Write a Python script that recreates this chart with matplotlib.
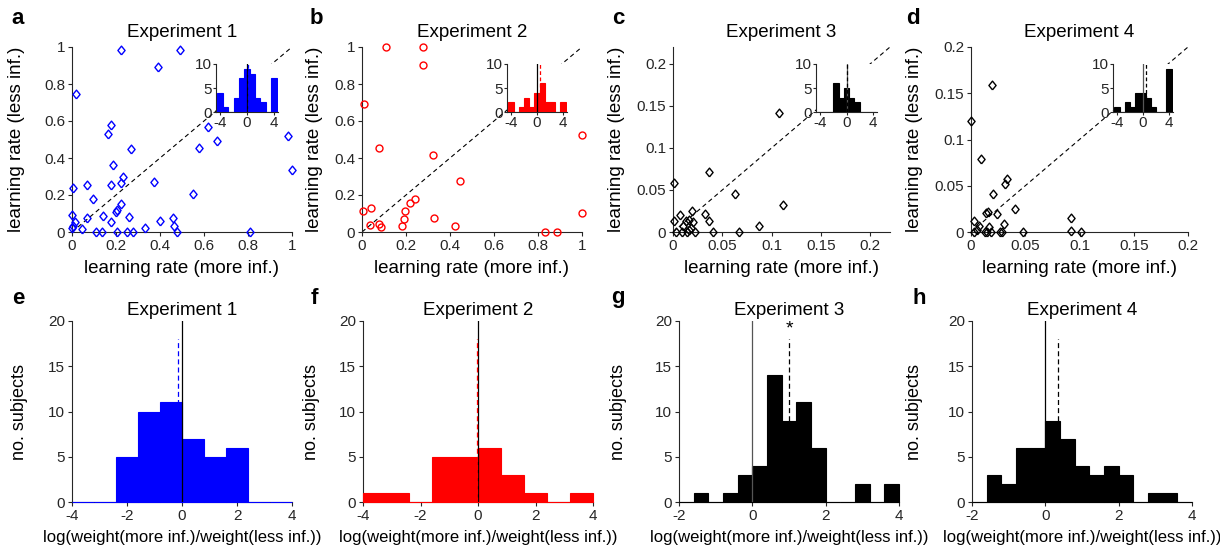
import numpy as np
import matplotlib
matplotlib.use('Agg')
import matplotlib.pyplot as plt

plt.rcParams['font.family'] = ['Liberation Sans', 'DejaVu Sans']
plt.rcParams['axes.unicode_minus'] = False
plt.rcParams['axes.linewidth'] = 0.8
plt.rcParams['axes.edgecolor'] = '#262626'
plt.rcParams['xtick.color'] = '#262626'
plt.rcParams['ytick.color'] = '#262626'
plt.rcParams['xtick.labelsize'] = 11
plt.rcParams['ytick.labelsize'] = 11

# learning rates per subject: more informative (x) vs less informative (y)
exp1_more = [0.223, 0.492, 0.39, 0.017, 0.176, 0.165, 0.62, 0.577, 0.659, 0.983, 1.0,
             0.267, 0.188, 0.373, 0.231, 0.223, 0.549, 0.003, 0.067, 0.175, 0.097, 0.223,
             0.206, 0.2, 0.0, 0.143, 0.067, 0.261, 0.015, 0.179, 0.4, 0.458, 0.463, 0.0,
             0.044, 0.331, 0.109, 0.135, 0.206, 0.252, 0.279, 0.476, 0.807, 0.004]
exp1_less = [0.982, 0.986, 0.892, 0.746, 0.578, 0.53, 0.566, 0.454, 0.494, 0.521, 0.335,
             0.449, 0.36, 0.272, 0.299, 0.263, 0.207, 0.238, 0.254, 0.254, 0.178, 0.153,
             0.121, 0.108, 0.094, 0.088, 0.076, 0.079, 0.056, 0.054, 0.058, 0.077, 0.031, 0.02,
             0.014, 0.023, 0.0, 0.0, 0.0, 0.0, 0.0, 0.0, 0.0, 0.03]

exp2_more = [0.109, 0.276, 0.276, 0.011, 0.077, 0.323, 1.0, 0.445, 0.242, 0.218, 0.195,
             0.192, 0.183, 0.003, 0.042, 0.036, 0.077, 0.088, 0.329, 0.424, 1.0, 0.83, 0.888]
exp2_less = [1.0, 1.0, 0.905, 0.692, 0.452, 0.414, 0.526, 0.274, 0.18, 0.159, 0.115,
             0.072, 0.032, 0.115, 0.132, 0.04, 0.043, 0.025, 0.076, 0.032, 0.101, 0.0, 0.0]

exp3_more = [0.107, 0.0368, 0.0007, 0.0625, 0.112, 0.0872, 0.041, 0.0669, 0.0328, 0.0368,
             0.0196, 0.0074, 0.0007, 0.003, 0.0128, 0.0162, 0.0101, 0.0203, 0.022, 0.0142,
             0.0095, 0.0186, 0.0162]
exp3_less = [0.141, 0.0718, 0.0584, 0.045, 0.0323, 0.0075, 0.0, 0.0, 0.0213, 0.0126,
             0.0245, 0.0205, 0.0126, 0.0, 0.0126, 0.0146, 0.0067, 0.0114, 0.0, 0.0,
             0.0, 0.0047, 0.0028]

exp4_more = [0.019, 0.0003, 0.0089, 0.0334, 0.0315, 0.0202, 0.0407, 0.0153, 0.0138, 0.0236,
             0.0925, 0.003, 0.007, 0.017, 0.030, 0.003, 0.0126, 0.0147, 0.018, 0.0285,
             0.0478, 0.0925, 0.101, 0.0055, 0.027]
exp4_less = [0.159, 0.12, 0.079, 0.057, 0.052, 0.041, 0.0248, 0.0215, 0.0205, 0.0194,
             0.0147, 0.0115, 0.0065, 0.005, 0.009, 0.0, 0.0, 0.0, 0.0, 0.0,
             0.0, 0.0007, 0.0, 0.0025, 0.0]

# inset histograms (log ratio of learning rates, clipped to +-4)
inset_centers = [-4, -3.2, -2.4, -1.6, -0.8, 0, 0.8, 1.6, 2.4, 3.2, 4]
exp1_inset = [4, 1, 0, 3, 7, 9, 8, 3, 2, 0, 7]
exp2_inset = [2, 0, 1, 3, 1, 4, 6, 2, 2, 0, 2]
exp3_inset = [0, 0, 0, 6, 3, 5, 3, 2, 0, 0, 0]
exp4_inset = [1, 0, 2, 1, 4, 4, 3, 1, 0, 0, 9]
inset_means = [0.2, 0.4, 0.15, 0.4]

# weight ratio histograms
edges_wide = [-4, -3.2, -2.4, -1.6, -0.8, 0, 0.8, 1.6, 2.4, 3.2, 4]
edges_narrow = [-2, -1.6, -1.2, -0.8, -0.4, 0, 0.4, 0.8, 1.2, 1.6, 2, 2.4, 2.8, 3.2, 3.6, 4]
exp1_counts = [0, 0, 5, 10, 11, 7, 5, 6, 0, 0]
exp2_counts = [1, 1, 0, 5, 5, 6, 3, 1, 0, 1]
exp3_counts = [0, 1, 0, 1, 3, 4, 14, 9, 11, 6, 0, 0, 2, 0, 2]
exp4_counts = [0, 3, 2, 6, 6, 9, 7, 4, 3, 4, 3, 0, 1, 1, 0]
weight_means = [-0.15, -0.02, 1.0, 0.35]

titles = ['Experiment 1', 'Experiment 2', 'Experiment 3', 'Experiment 4']
colors = ['#0000ff', '#ff0000', 'black', 'black']

# slightly tall diamond, like matlab's 'd'
diamond = [(0, -1), (0.82, 0), (0, 1), (-0.82, 0), (0, -1)]

W, H = 1220, 551
fig = plt.figure(figsize=(W / 100, H / 100), dpi=100)


def px_axes(left, right, top, bottom):
    return fig.add_axes([left / W, 1 - bottom / H, (right - left) / W, (bottom - top) / H])


def clean(ax):
    ax.spines['top'].set_visible(False)
    ax.spines['right'].set_visible(False)
    ax.tick_params(direction='out', length=3, width=0.8, pad=2)


# top row: scatter of learning rates
top_boxes = [(72, 292), (362, 582), (673, 890), (971, 1188)]
top_lims = [1.0, 1.0, 0.22, 0.2]
top_ticks = [[0, 0.2, 0.4, 0.6, 0.8, 1], [0, 0.2, 0.4, 0.6, 0.8, 1],
             [0, 0.05, 0.1, 0.15, 0.2], [0, 0.05, 0.1, 0.15, 0.2]]
tick_fmt = [['0', '0.2', '0.4', '0.6', '0.8', '1']] * 2 + [['0', '0.05', '0.1', '0.15', '0.2']] * 2
scatter_x = [exp1_more, exp2_more, exp3_more, exp4_more]
scatter_y = [exp1_less, exp2_less, exp3_less, exp4_less]
markers = [diamond, 'o', diamond, diamond]
ylab_x = [25, 323, 625, 923]
insets = [(216, 278), (507, 567), (816, 877), (1113, 1173)]
inset_counts = [exp1_inset, exp2_inset, exp3_inset, exp4_inset]
zero_cols = ['black', 'black', '#555555', '#555555']

for i in range(4):
    l, r = top_boxes[i]
    ax = px_axes(l, r, 47, 232)
    clean(ax)
    lim = top_lims[i]
    ax.plot([0, lim], [0, lim], color='black', lw=0.8, dashes=(4, 3), zorder=1)
    ms = 5 if markers[i] == 'o' else 6.3
    ax.plot(scatter_x[i], scatter_y[i], ls='none', marker=markers[i], ms=ms,
            mfc='none', mec=colors[i], mew=1.0, clip_on=False, zorder=3)
    ax.set_xlim(0, lim)
    ax.set_ylim(0, lim)
    ax.set_xticks(top_ticks[i])
    ax.set_xticklabels(tick_fmt[i])
    ax.set_yticks(top_ticks[i])
    ax.set_yticklabels(tick_fmt[i])
    ax.set_title(titles[i], fontsize=13.5, pad=7)
    ax.set_xlabel('learning rate (more inf.)', fontsize=13.5, labelpad=5)
    ax.set_ylabel('learning rate (less inf.)', fontsize=13.5)
    ax.yaxis.set_label_coords((ylab_x[i] - l) / (r - l), 0.5)

    # inset histogram
    il, ir = insets[i]
    ins = px_axes(il, ir, 64, 112)
    ins.set_facecolor('white')
    clean(ins)
    ins.bar(inset_centers, inset_counts[i], width=0.8, color=colors[i],
            edgecolor=colors[i], lw=0.8, zorder=3)
    ins.plot([0, 0], [0, 10], color=zero_cols[i], lw=0.9, zorder=4)
    ins.plot([inset_means[i]] * 2, [0, 10], color=colors[i], lw=0.9, dashes=(3, 2), zorder=4)
    ins.set_xlim(-4.6, 4.6)
    ins.set_ylim(0, 10)
    ins.set_xticks([-4, 0, 4])
    ins.set_yticks([0, 5, 10])
    ins.tick_params(length=2, pad=1)

# bottom row: histograms of log weight ratio
bot_boxes = [(72, 292), (363, 593), (679, 899), (972, 1192)]
all_counts = [exp1_counts, exp2_counts, exp3_counts, exp4_counts]
all_edges = [edges_wide, edges_wide, edges_narrow, edges_narrow]
ylab_x2 = [28, 320, 627, 923]
zero_cols2 = ['black', 'black', '#555555', 'black']

for i in range(4):
    l, r = bot_boxes[i]
    ax = px_axes(l, r, 321, 502)
    clean(ax)
    edges = all_edges[i]
    widths = np.diff(edges)
    ax.bar(edges[:-1], all_counts[i], width=widths, align='edge', color=colors[i],
           edgecolor=colors[i], lw=0.8, zorder=3, clip_on=False)
    ax.plot([0, 0], [0, 20], color=zero_cols2[i], lw=0.9, zorder=4)
    ax.plot([weight_means[i]] * 2, [0, 18], color=colors[i], lw=0.9, dashes=(4, 2.5), zorder=4)
    ax.set_xlim(edges[0], edges[-1])
    ax.set_ylim(0, 20)
    ax.set_yticks([0, 5, 10, 15, 20])
    ax.set_xticks(np.arange(edges[0], 4.1, 2))
    ax.set_title(titles[i], fontsize=13.5, pad=4)
    ax.set_xlabel('log(weight(more inf.)/weight(less inf.))', fontsize=12, labelpad=5)
    ax.set_ylabel('no. subjects', fontsize=13)
    ax.yaxis.set_label_coords((ylab_x2[i] - l) / (r - l), 0.5)
    if i == 2:
        ax.text(weight_means[i], 18.2, '*', ha='center', va='bottom', fontsize=14)

# panel letters
letters = ['a', 'b', 'c', 'd', 'e', 'f', 'g', 'h']
letter_pos = [(18, 18), (316, 18), (618, 18), (913, 18),
              (18, 298), (314, 298), (618, 298), (919, 298)]
for lab, (x, y) in zip(letters, letter_pos):
    fig.text(x / W, 1 - y / H, lab, fontsize=16, fontweight='bold', ha='center', va='center')

fig.savefig('out.png', dpi=100)
